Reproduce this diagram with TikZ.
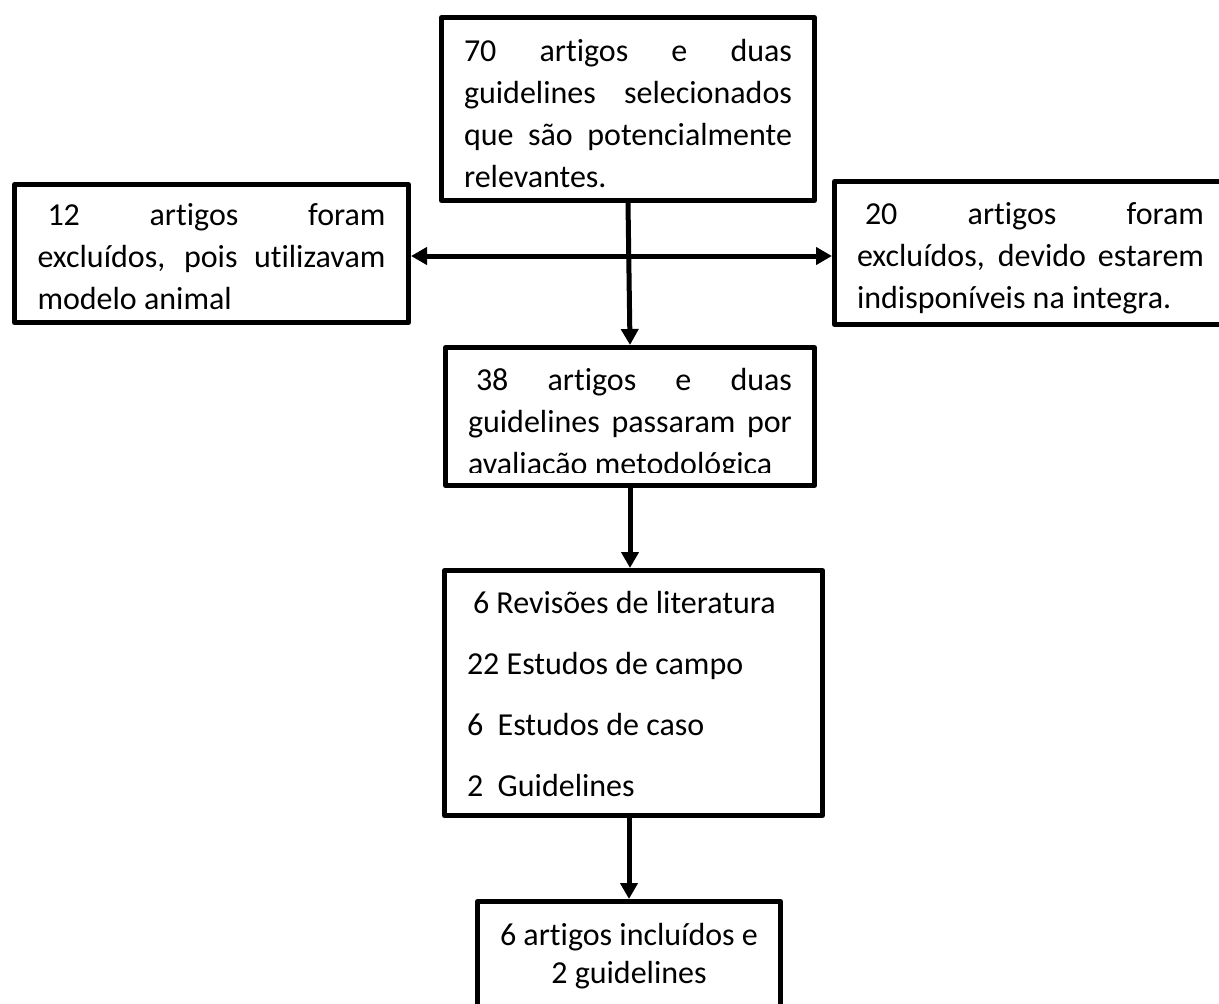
\documentclass[tikz,border=0pt]{standalone}
\usepackage{fontspec}
\setmainfont{Carlito}[Ligatures={TeX,NoCommon}]
\usepackage{tikz}
\tikzset{font=\fontsize{24pt}{31.5pt}\selectfont}
\usetikzlibrary{positioning,calc}
\usetikzlibrary{arrows.meta}

\tikzset{
  block/.style={draw, line width=3.75pt, line join=round, inner sep=0pt},
  flow/.style={line width=3.75pt, -{Triangle[length=12pt,width=12.75pt]}},
  twoway/.style={line width=3.75pt, {Triangle[length=12pt,width=12.75pt]}-{Triangle[length=12pt,width=12.75pt]}},
  cutoff/.style={fill=white}
}
\newcommand{\boxtext}[3]{\parbox[c][#2][t]{#1}{\rule{0pt}{18pt}#3}}
\hbadness=10000

\begin{document}
\begin{tikzpicture}[x=0.75pt,y=-0.75pt,node distance=21pt]
    \fill[white, use as bounding box] (0,0) rectangle (1219,1003);

    \node[block, minimum width=279.75pt, minimum height=137.25pt] (selected) at (628,109) {\boxtext{246pt}{108pt}{70 artigos e duas\linebreak guidelines selecionados\linebreak que são potencialmente\linebreak relevantes.}};
    \node[block, minimum width=295.5pt, minimum height=103.5pt] (excluded_animal) [left=21pt of selected, yshift=-108.375pt] {\boxtext{261pt}{78.75pt}{\hspace*{7.5pt}12 artigos foram\linebreak excluídos, pois utilizavam\linebreak modelo animal}};
    \node[block, minimum width=294pt, minimum height=107.25pt] (excluded_unavailable) [right=11.25pt of selected, yshift=-108pt] {\boxtext{260.25pt}{79.5pt}{\hspace*{6pt}20 artigos foram\linebreak excluídos, devido estarem\linebreak indisponíveis na integra.}};

    \node[block, minimum width=276.75pt, minimum height=103.5pt] (evaluated) [below=106.5pt of selected, xshift=1.5pt] {\boxtext{243pt}{75.75pt}{\hspace*{6pt}38 artigos e duas\linebreak guidelines passaram por\linebreak avaliação metodológica}};
    \node[block, minimum width=283.5pt, minimum height=183.75pt, font=\fontsize{24pt}{45.75pt}\selectfont] (studies) [below=60pt of evaluated, xshift=2.625pt] {\boxtext{249.75pt}{156pt}{\raggedright\hspace*{4.5pt}6 Revisões de literatura\\22 Estudos de campo\\6\ \ Estudos de caso\\2\ \ Guidelines}};
    \node[block, minimum width=227.25pt, minimum height=83.25pt, font=\fontsize{24pt}{28.5pt}\selectfont] (included) [below=60.75pt of studies, xshift=-3.375pt] {\boxtext{210pt}{54pt}{\centering 6 artigos incluídos e\\2 guidelines}};

    % text running past the box bottoms
    \fill[cutoff] ($(excluded_animal.south west)+(5.2,-5.2)$) rectangle ($(excluded_animal.south east)+(-5.2,-15)$);
    \fill[cutoff] ($(evaluated.south west)+(5.2,-5.2)$) rectangle ($(evaluated.south east)+(-5.2,-15)$);

    \coordinate (branch) at (629,256);
    \draw[flow] (selected.south) -- (evaluated.north);
    \draw[twoway] (excluded_animal.east |- branch) -- (excluded_unavailable.west |- branch);
    \draw[flow] (evaluated.south) -- (evaluated.south |- studies.north);
    \draw[flow] (included.north |- studies.south) -- (included.north);
\end{tikzpicture}
\end{document}
